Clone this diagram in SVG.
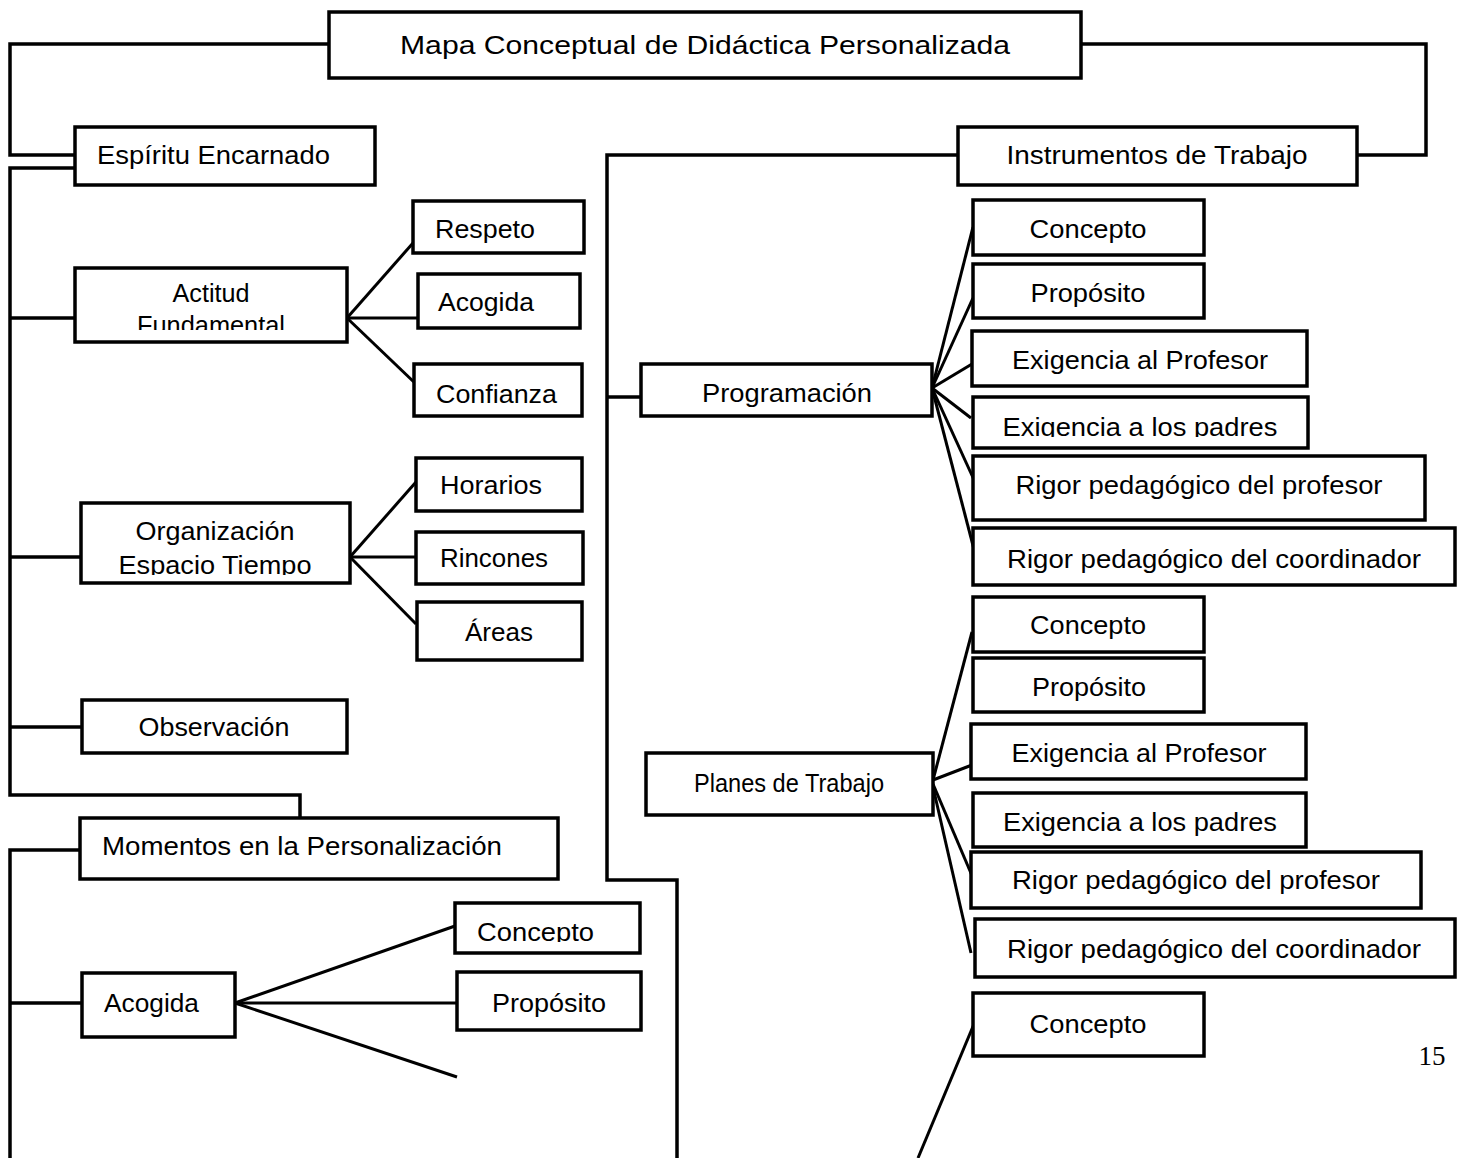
<svg xmlns="http://www.w3.org/2000/svg" width="1464" height="1158" viewBox="0 0 1464 1158">
<style>
.box{fill:#fff;stroke:#000;stroke-width:3.5}
.t{font-family:"Liberation Sans",Arial,sans-serif;font-size:26px;fill:#000}
.c{text-anchor:middle}
.ln{fill:none;stroke:#000;stroke-width:3.5;stroke-linejoin:miter}
.fl{fill:none;stroke:#000;stroke-width:3}
</style>
<defs>
<clipPath id="clipAF"><rect x="74" y="267" width="273" height="63"/></clipPath>
<clipPath id="clipOE"><rect x="81" y="503" width="269" height="72"/></clipPath>
<clipPath id="clipEP"><rect x="973" y="397" width="335" height="40"/></clipPath>
<clipPath id="clipCB"><rect x="455" y="903" width="185" height="39"/></clipPath>
</defs>
<rect width="1464" height="1158" fill="#fff"/>
<g id="connectors">
<polyline class="ln" points="329,44 10,44 10,155 75,155"/>
<polyline class="ln" points="75,168 10,168 10,795 300,795 300,818"/>
<line class="ln" x1="10" y1="318" x2="80" y2="318"/>
<line class="ln" x1="10" y1="557" x2="81" y2="557"/>
<line class="ln" x1="10" y1="727" x2="82" y2="727"/>
<polyline class="ln" points="79,850 10,850 10,1158"/>
<line class="ln" x1="10" y1="1003" x2="82" y2="1003"/>
<polyline class="ln" points="1081,44 1426,44 1426,155 1357,155"/>
<polyline class="ln" points="958,155 607,155 607,880 677,880 677,1158"/>
<line class="ln" x1="607" y1="397" x2="641" y2="397"/>
<line class="fl" x1="347" y1="318" x2="413" y2="243"/>
<line class="fl" x1="347" y1="318" x2="417" y2="318"/>
<line class="fl" x1="347" y1="318" x2="416" y2="384"/>
<line class="fl" x1="350" y1="557" x2="416" y2="482"/>
<line class="fl" x1="350" y1="557" x2="416" y2="557"/>
<line class="fl" x1="350" y1="557" x2="416" y2="624"/>
<line class="fl" x1="235" y1="1003" x2="455" y2="926"/>
<line class="fl" x1="235" y1="1003" x2="457" y2="1003"/>
<line class="fl" x1="235" y1="1003" x2="457" y2="1077"/>
<line class="fl" x1="932" y1="388" x2="973" y2="227"/>
<line class="fl" x1="932" y1="388" x2="973" y2="298"/>
<line class="fl" x1="932" y1="388" x2="972" y2="364"/>
<line class="fl" x1="932" y1="388" x2="971" y2="418"/>
<line class="fl" x1="932" y1="388" x2="975" y2="482"/>
<line class="fl" x1="932" y1="388" x2="976" y2="557"/>
<line class="fl" x1="933" y1="780" x2="972" y2="632"/>
<line class="fl" x1="933" y1="780" x2="972" y2="765"/>
<line class="fl" x1="933" y1="784" x2="973" y2="878"/>
<line class="fl" x1="933" y1="787" x2="971" y2="953"/>
<line class="fl" x1="974" y1="1024" x2="918" y2="1158"/>
</g>
<g id="title"><rect class="box" x="329" y="12" width="752" height="66"/><text class="t c" x="705" y="54" font-size="27" textLength="610" lengthAdjust="spacingAndGlyphs">Mapa Conceptual de Didáctica Personalizada</text></g>
<g id="espiritu"><rect class="box" x="75" y="127" width="300" height="58"/><text class="t" x="97" y="164" textLength="233" lengthAdjust="spacingAndGlyphs">Espíritu Encarnado</text></g>
<g id="instrumentos"><rect class="box" x="958" y="127" width="399" height="58"/><text class="t c" x="1157" y="164" textLength="301" lengthAdjust="spacingAndGlyphs">Instrumentos de Trabajo</text></g>
<g id="actitud"><rect class="box" x="75" y="268" width="272" height="74"/><g clip-path="url(#clipAF)"><text class="t c" x="211" y="302" font-size="22" textLength="77" lengthAdjust="spacingAndGlyphs">Actitud</text><text class="t c" x="211" y="334" font-size="22" textLength="148" lengthAdjust="spacingAndGlyphs">Fundamental</text></g></g>
<g id="respeto"><rect class="box" x="413" y="201" width="171" height="52"/><text class="t" x="435" y="238" textLength="100" lengthAdjust="spacingAndGlyphs">Respeto</text></g>
<g id="acogida1"><rect class="box" x="418" y="274" width="162" height="54"/><text class="t" x="438" y="311" textLength="96" lengthAdjust="spacingAndGlyphs">Acogida</text></g>
<g id="confianza"><rect class="box" x="414" y="364" width="168" height="52"/><text class="t" x="436" y="403" textLength="121" lengthAdjust="spacingAndGlyphs">Confianza</text></g>
<g id="organizacion"><rect class="box" x="81" y="503" width="269" height="80"/><g clip-path="url(#clipOE)"><text class="t c" x="215" y="540" textLength="159" lengthAdjust="spacingAndGlyphs">Organización</text><text class="t c" x="215" y="574" textLength="193" lengthAdjust="spacingAndGlyphs">Espacio Tiempo</text></g></g>
<g id="horarios"><rect class="box" x="416" y="458" width="166" height="53"/><text class="t" x="440" y="494" textLength="102" lengthAdjust="spacingAndGlyphs">Horarios</text></g>
<g id="rincones"><rect class="box" x="416" y="532" width="167" height="52"/><text class="t" x="440" y="567" textLength="108" lengthAdjust="spacingAndGlyphs">Rincones</text></g>
<g id="areas"><rect class="box" x="417" y="602" width="165" height="58"/><text class="t c" x="499" y="641" textLength="68" lengthAdjust="spacingAndGlyphs">Áreas</text></g>
<g id="observacion"><rect class="box" x="82" y="700" width="265" height="53"/><text class="t c" x="214" y="736" textLength="151" lengthAdjust="spacingAndGlyphs">Observación</text></g>
<g id="momentos"><rect class="box" x="80" y="818" width="478" height="61"/><text class="t" x="102" y="855" textLength="400" lengthAdjust="spacingAndGlyphs">Momentos en la Personalización</text></g>
<g id="acogida2"><rect class="box" x="82" y="973" width="153" height="64"/><text class="t" x="104" y="1012" textLength="95" lengthAdjust="spacingAndGlyphs">Acogida</text></g>
<g id="concepto-a"><rect class="box" x="455" y="903" width="185" height="50"/><g clip-path="url(#clipCB)"><text class="t" x="477" y="941" textLength="117" lengthAdjust="spacingAndGlyphs">Concepto</text></g></g>
<g id="proposito-a"><rect class="box" x="457" y="972" width="184" height="58"/><text class="t c" x="549" y="1012" textLength="114" lengthAdjust="spacingAndGlyphs">Propósito</text></g>
<g id="programacion"><rect class="box" x="641" y="364" width="291" height="52"/><text class="t c" x="787" y="402" textLength="170" lengthAdjust="spacingAndGlyphs">Programación</text></g>
<g id="p-concepto"><rect class="box" x="973" y="200" width="231" height="55"/><text class="t c" x="1088" y="238" textLength="117" lengthAdjust="spacingAndGlyphs">Concepto</text></g>
<g id="p-proposito"><rect class="box" x="973" y="264" width="231" height="54"/><text class="t c" x="1088" y="302" textLength="115" lengthAdjust="spacingAndGlyphs">Propósito</text></g>
<g id="p-exprof"><rect class="box" x="972" y="331" width="335" height="55"/><text class="t c" x="1140" y="369" textLength="256" lengthAdjust="spacingAndGlyphs">Exigencia al Profesor</text></g>
<g id="p-expadres"><rect class="box" x="973" y="397" width="335" height="51"/><g clip-path="url(#clipEP)"><text class="t c" x="1140" y="436" textLength="275" lengthAdjust="spacingAndGlyphs">Exigencia a los padres</text></g></g>
<g id="p-rigprof"><rect class="box" x="973" y="456" width="452" height="64"/><text class="t c" x="1199" y="494" textLength="367" lengthAdjust="spacingAndGlyphs">Rigor pedagógico del profesor</text></g>
<g id="p-rigcoord"><rect class="box" x="973" y="528" width="482" height="57"/><text class="t c" x="1214" y="568" textLength="414" lengthAdjust="spacingAndGlyphs">Rigor pedagógico del coordinador</text></g>
<g id="planes"><rect class="box" x="646" y="753" width="287" height="62"/><text class="t c" x="789" y="792" textLength="190" lengthAdjust="spacingAndGlyphs">Planes de Trabajo</text></g>
<g id="t-concepto"><rect class="box" x="973" y="597" width="231" height="55"/><text class="t c" x="1088" y="634" textLength="116" lengthAdjust="spacingAndGlyphs">Concepto</text></g>
<g id="t-proposito"><rect class="box" x="973" y="658" width="231" height="54"/><text class="t c" x="1089" y="696" textLength="114" lengthAdjust="spacingAndGlyphs">Propósito</text></g>
<g id="t-exprof"><rect class="box" x="971" y="724" width="335" height="55"/><text class="t c" x="1139" y="762" textLength="255" lengthAdjust="spacingAndGlyphs">Exigencia al Profesor</text></g>
<g id="t-expadres"><rect class="box" x="973" y="793" width="333" height="54"/><text class="t c" x="1140" y="831" textLength="274" lengthAdjust="spacingAndGlyphs">Exigencia a los padres</text></g>
<g id="t-rigprof"><rect class="box" x="971" y="852" width="450" height="56"/><text class="t c" x="1196" y="889" textLength="368" lengthAdjust="spacingAndGlyphs">Rigor pedagógico del profesor</text></g>
<g id="t-rigcoord"><rect class="box" x="975" y="919" width="480" height="58"/><text class="t c" x="1214" y="958" textLength="414" lengthAdjust="spacingAndGlyphs">Rigor pedagógico del coordinador</text></g>
<g id="b-concepto"><rect class="box" x="973" y="993" width="231" height="63"/><text class="t c" x="1088" y="1033" textLength="117" lengthAdjust="spacingAndGlyphs">Concepto</text></g>
<text x="1432" y="1065" text-anchor="middle" font-family="Liberation Serif, serif" font-size="27">15</text>
</svg>
